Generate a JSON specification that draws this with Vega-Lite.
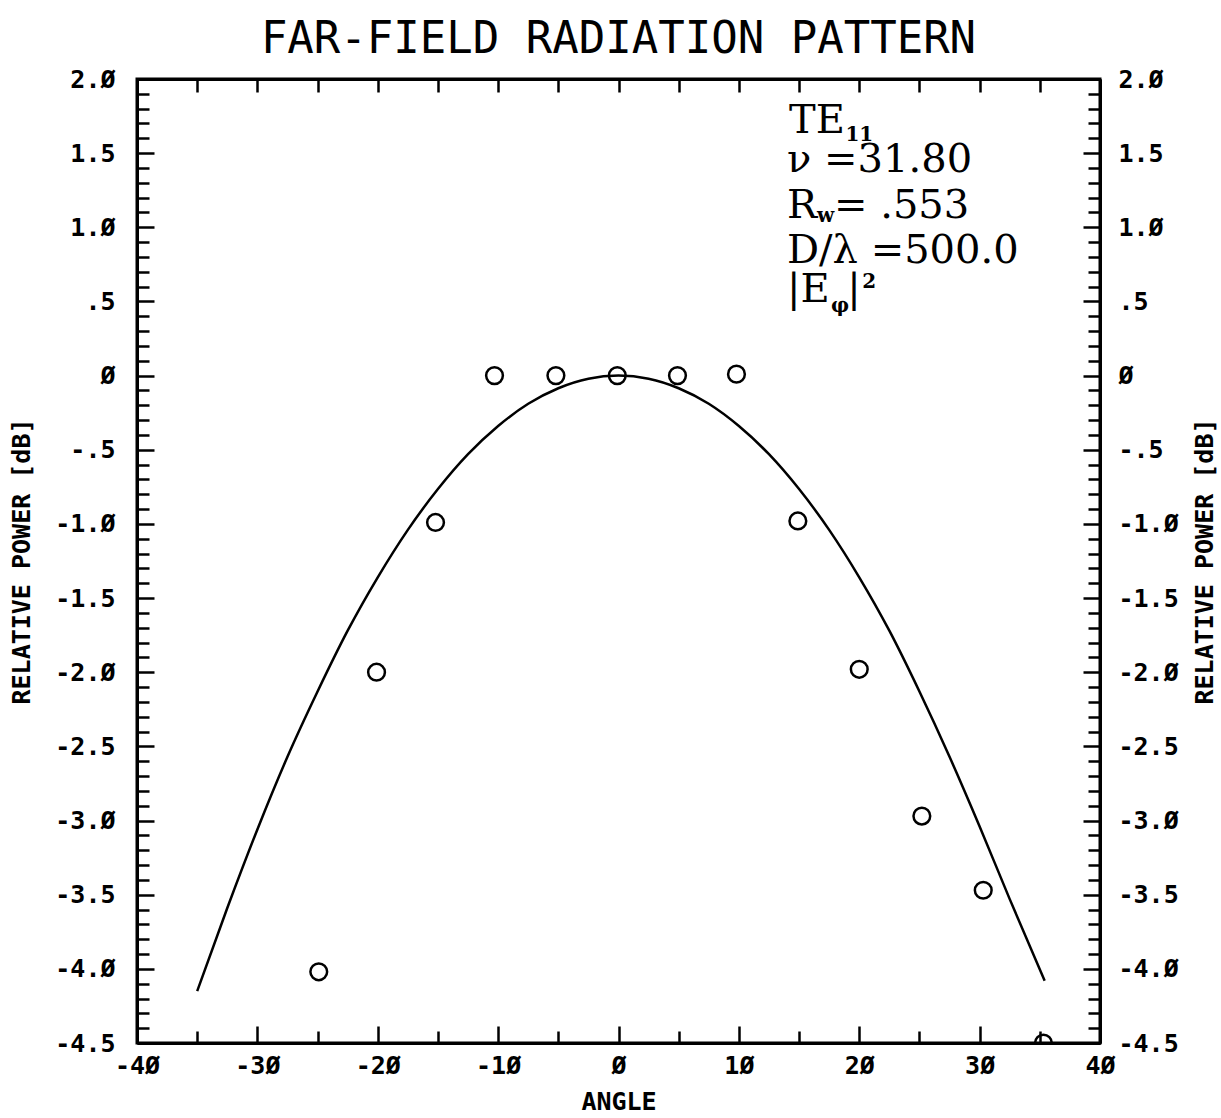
{
  "$schema": "https://vega.github.io/schema/vega-lite/v6.json",
  "autosize": {"type": "none"},
  "padding": {"left": 137, "top": 79, "right": 121, "bottom": 75},
  "width": 963,
  "height": 964,
  "background": "white",
  "title": {"text": "FAR-FIELD RADIATION PATTERN", "font": "DejaVu Sans Mono", "fontSize": 44, "fontWeight": "normal", "color": "black", "offset": 5, "anchor": "middle"},
  "config": {
    "view": {"stroke": "black", "strokeWidth": 3},
    "axis": {"grid": false, "domainColor": "black", "domainWidth": 3, "tickColor": "black", "tickWidth": 2.5, "labelFont": "DejaVu Sans Mono", "labelFontWeight": "bold", "labelFontSize": 25, "labelColor": "black", "titleFont": "DejaVu Sans Mono", "titleFontWeight": "bold", "titleFontSize": 25, "titleColor": "black", "labelOverlap": false, "labelBound": false, "labelFlush": false}
  },
  "datasets": {
    "theory": [
      {"angle": -35, "power": -4.15}, {"angle": -32.5, "power": -3.59}, {"angle": -30, "power": -3.06}, {"angle": -27.5, "power": -2.57},
      {"angle": -25, "power": -2.13}, {"angle": -22.5, "power": -1.72}, {"angle": -20, "power": -1.36}, {"angle": -17.5, "power": -1.04},
      {"angle": -15, "power": -0.765}, {"angle": -12.5, "power": -0.53}, {"angle": -10, "power": -0.34}, {"angle": -7.5, "power": -0.19},
      {"angle": -5, "power": -0.085}, {"angle": -2.5, "power": -0.021}, {"angle": 0, "power": 0}, {"angle": 2.5, "power": -0.021},
      {"angle": 5, "power": -0.085}, {"angle": 7.5, "power": -0.19}, {"angle": 10, "power": -0.34}, {"angle": 12.5, "power": -0.53},
      {"angle": 15, "power": -0.765}, {"angle": 17.5, "power": -1.04}, {"angle": 20, "power": -1.36}, {"angle": 22.5, "power": -1.72},
      {"angle": 25, "power": -2.13}, {"angle": 27.5, "power": -2.57}, {"angle": 30, "power": -3.04}, {"angle": 32.5, "power": -3.53},
      {"angle": 35.4, "power": -4.08}
    ],
    "measured": [
      {"angle": -24.9, "power": -4.02}, {"angle": -20.1, "power": -2.0}, {"angle": -15.2, "power": -0.99}, {"angle": -10.3, "power": 0.0},
      {"angle": -5.2, "power": 0.0}, {"angle": -0.1, "power": 0.0}, {"angle": 4.9, "power": 0.0}, {"angle": 9.8, "power": 0.01},
      {"angle": 14.9, "power": -0.98}, {"angle": 20.0, "power": -1.98}, {"angle": 25.2, "power": -2.97}, {"angle": 30.3, "power": -3.47},
      {"angle": 35.3, "power": -4.5}
    ],
    "notes": [
      {"x": 14.16, "y": 1.636, "t": "TE"},
      {"x": 14.0, "y": 1.373, "t": "ν =31.80"},
      {"x": 14.0, "y": 1.063, "t": "R"},
      {"x": 17.9, "y": 1.063, "t": "= .553"},
      {"x": 14.0, "y": 0.759, "t": "D/λ =500.0"},
      {"x": 14.0, "y": 0.496, "t": "|E"},
      {"x": 19.0, "y": 0.496, "t": "|"}
    ],
    "subs": [
      {"x": 18.85, "y": 1.582, "t": "11"},
      {"x": 16.5, "y": 1.036, "t": "w"},
      {"x": 17.65, "y": 0.429, "t": "φ"},
      {"x": 20.25, "y": 0.59, "t": "2"}
    ]
  },
  "layer": [
    {
      "data": {"name": "theory"},
      "mark": {"type": "line", "color": "black", "strokeWidth": 2.5, "interpolate": "monotone"},
      "encoding": {
        "x": {"field": "angle", "type": "quantitative", "scale": {"domain": [-40, 40], "nice": false, "zero": false},
          "axis": {"orient": "bottom", "title": "ANGLE", "titlePadding": 6,
            "values": [-40, -35, -30, -25, -20, -15, -10, -5, 0, 5, 10, 15, 20, 25, 30, 35, 40],
            "labelExpr": "abs(datum.value % 10) < 0.01 ? replace(replace(toString(datum.value), '\u2212', '-'), '0', 'Ø') : ''",
            "tickSize": {"condition": {"test": "abs(datum.value % 10) < 0.01", "value": -17}, "value": -12},
            "labelPadding": 27}},
        "y": {"field": "power", "type": "quantitative", "scale": {"domain": [-4.5, 2], "nice": false, "zero": false},
          "axis": {"orient": "left", "title": "RELATIVE POWER [dB]", "titlePadding": 20,
            "values": [-4.5,-4.4,-4.3,-4.2,-4.1,-4,-3.9,-3.8,-3.7,-3.6,-3.5,-3.4,-3.3,-3.2,-3.1,-3,-2.9,-2.8,-2.7,-2.6,-2.5,-2.4,-2.3,-2.2,-2.1,-2,-1.9,-1.8,-1.7,-1.6,-1.5,-1.4,-1.3,-1.2,-1.1,-1,-0.9,-0.8,-0.7,-0.6,-0.5,-0.4,-0.3,-0.2,-0.1,0,0.1,0.2,0.3,0.4,0.5,0.6,0.7,0.8,0.9,1,1.1,1.2,1.3,1.4,1.5,1.6,1.7,1.8,1.9,2],
            "labelExpr": "abs(datum.value*2-round(datum.value*2)) > 0.01 ? '' : (abs(datum.value) < 0.01 ? 'Ø' : replace(replace(replace(format(datum.value, '.1f'), '\u2212', '-'), '0.', '.'), '0', 'Ø'))",
            "tickSize": {"condition": {"test": "abs(datum.value*2-round(datum.value*2)) < 0.01", "value": -17}, "value": -12},
            "labelPadding": 39}}
      }
    },
    {
      "data": {"name": "measured"},
      "mark": {"type": "point", "shape": "circle", "filled": false, "color": "black", "strokeWidth": 2.5, "size": 280, "clip": true, "opacity": 1},
      "encoding": {
        "x": {"field": "angle", "type": "quantitative", "scale": {"domain": [-40, 40], "nice": false, "zero": false},
          "axis": {"orient": "top", "title": null, "labels": false,
            "values": [-40, -35, -30, -25, -20, -15, -10, -5, 0, 5, 10, 15, 20, 25, 30, 35, 40],
            "tickSize": -13}},
        "y": {"field": "power", "type": "quantitative", "scale": {"domain": [-4.5, 2], "nice": false, "zero": false},
          "axis": {"orient": "right", "title": "RELATIVE POWER [dB]", "titleAngle": -90, "titleBaseline": "top", "titlePadding": 14,
            "values": [-4.5,-4.4,-4.3,-4.2,-4.1,-4,-3.9,-3.8,-3.7,-3.6,-3.5,-3.4,-3.3,-3.2,-3.1,-3,-2.9,-2.8,-2.7,-2.6,-2.5,-2.4,-2.3,-2.2,-2.1,-2,-1.9,-1.8,-1.7,-1.6,-1.5,-1.4,-1.3,-1.2,-1.1,-1,-0.9,-0.8,-0.7,-0.6,-0.5,-0.4,-0.3,-0.2,-0.1,0,0.1,0.2,0.3,0.4,0.5,0.6,0.7,0.8,0.9,1,1.1,1.2,1.3,1.4,1.5,1.6,1.7,1.8,1.9,2],
            "labelExpr": "abs(datum.value*2-round(datum.value*2)) > 0.01 ? '' : (abs(datum.value) < 0.01 ? 'Ø' : replace(replace(replace(format(datum.value, '.1f'), '\u2212', '-'), '0.', '.'), '0', 'Ø'))",
            "tickSize": {"condition": {"test": "abs(datum.value*2-round(datum.value*2)) < 0.01", "value": -17}, "value": -12},
            "labelPadding": 35}}
      }
    },
    {
      "data": {"name": "notes"},
      "mark": {"type": "text", "font": "DejaVu Serif", "fontSize": 40, "align": "left", "baseline": "alphabetic", "color": "black"},
      "encoding": {
        "x": {"field": "x", "type": "quantitative", "axis": null},
        "y": {"field": "y", "type": "quantitative", "axis": null},
        "text": {"field": "t"}
      }
    },
    {
      "data": {"name": "subs"},
      "mark": {"type": "text", "font": "DejaVu Serif", "fontSize": 20, "fontWeight": "bold", "align": "left", "baseline": "alphabetic", "color": "black"},
      "encoding": {
        "x": {"field": "x", "type": "quantitative", "axis": null},
        "y": {"field": "y", "type": "quantitative", "axis": null},
        "text": {"field": "t"}
      }
    }
  ],
  "resolve": {"axis": {"x": "independent", "y": "independent"}}
}
